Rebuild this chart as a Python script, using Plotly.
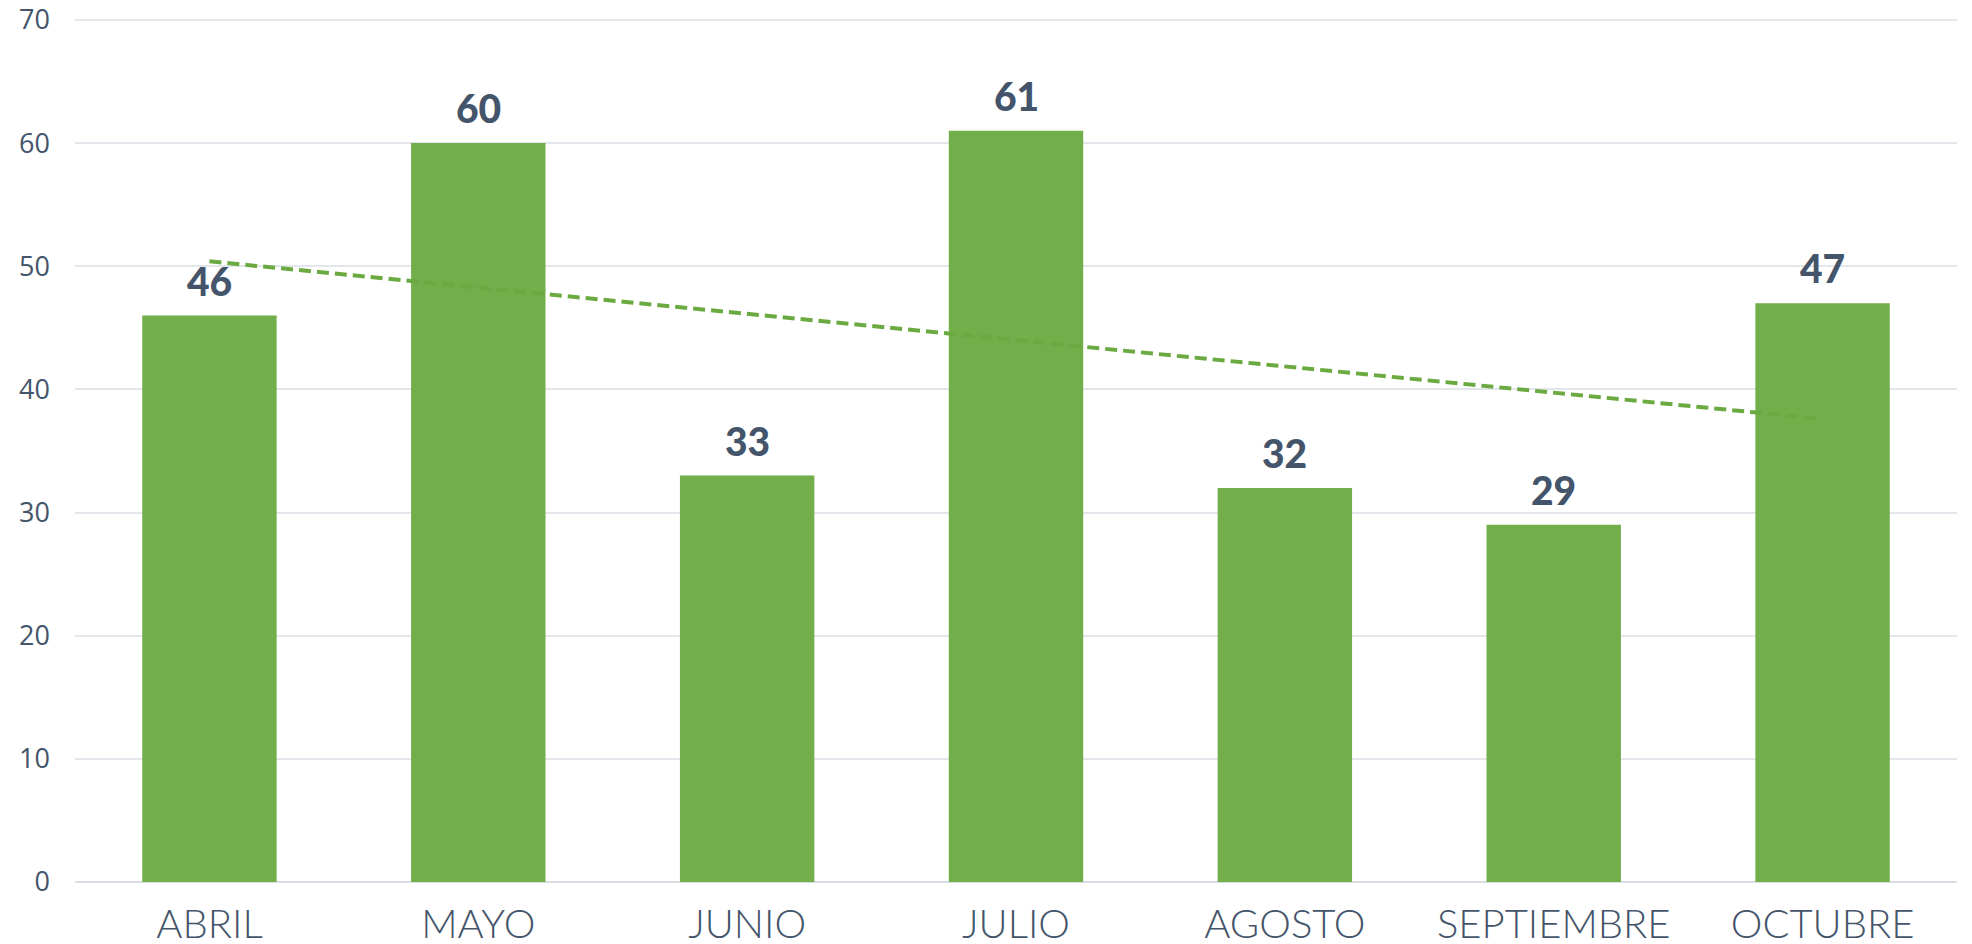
import plotly.graph_objects as go

months = ["ABRIL", "MAYO", "JUNIO", "JULIO", "AGOSTO", "SEPTIEMBRE", "OCTUBRE"]
values = [46, 60, 33, 61, 32, 29, 47]
trend_x = ["ABRIL", "OCTUBRE"]
trend_y = [50.4, 37.6]
y_ticks = [0, 10, 20, 30, 40, 50, 60, 70]

text_color = "#44546A"
bar_color = "#72AE4A"
trend_color = "#6AAA40"
grid_color = "#E3E7EC"

fig = go.Figure()
fig.add_trace(go.Bar(
    x=months, y=values,
    marker=dict(color=bar_color, line=dict(width=0)),
    showlegend=False,
))
fig.add_trace(go.Scatter(
    x=trend_x, y=trend_y, mode="lines",
    line=dict(color=trend_color, width=4, dash="12px,6px"),
    showlegend=False, hoverinfo="skip",
))
for m, v in zip(months, values):
    fig.add_annotation(
        x=m, y=v, text=str(v), showarrow=False,
        xanchor="center", yanchor="bottom", yshift=10,
        font=dict(family="Lato", size=39, color=text_color, weight=900),
    )

# page body has an 8px default margin, so the figure is sized to fit the window
fig.update_layout(
    width=1964, height=936,
    margin=dict(l=67, r=15, t=10, b=62),
    paper_bgcolor="white", plot_bgcolor="white",
    bargap=0.5,
    showlegend=False,
)
fig.update_yaxes(
    range=[0, 70.16], tickvals=y_ticks, automargin=False,
    showgrid=True, gridcolor=grid_color, gridwidth=2,
    zeroline=True, zerolinecolor="#D9DEE5", zerolinewidth=2,
    showline=False,
    tickfont=dict(family="Open Sans", size=27, color=text_color),
    ticks="", ticklabelstandoff=24, ticklabeloverflow="allow",
)
fig.update_xaxes(
    type="category", automargin=False,
    showgrid=False, showline=False, zeroline=False,
    tickfont=dict(family="Lato", size=40, color=text_color, weight=300),
    ticks="", ticklabelstandoff=15, ticklabeloverflow="allow",
)

fig.write_html("out.html")
